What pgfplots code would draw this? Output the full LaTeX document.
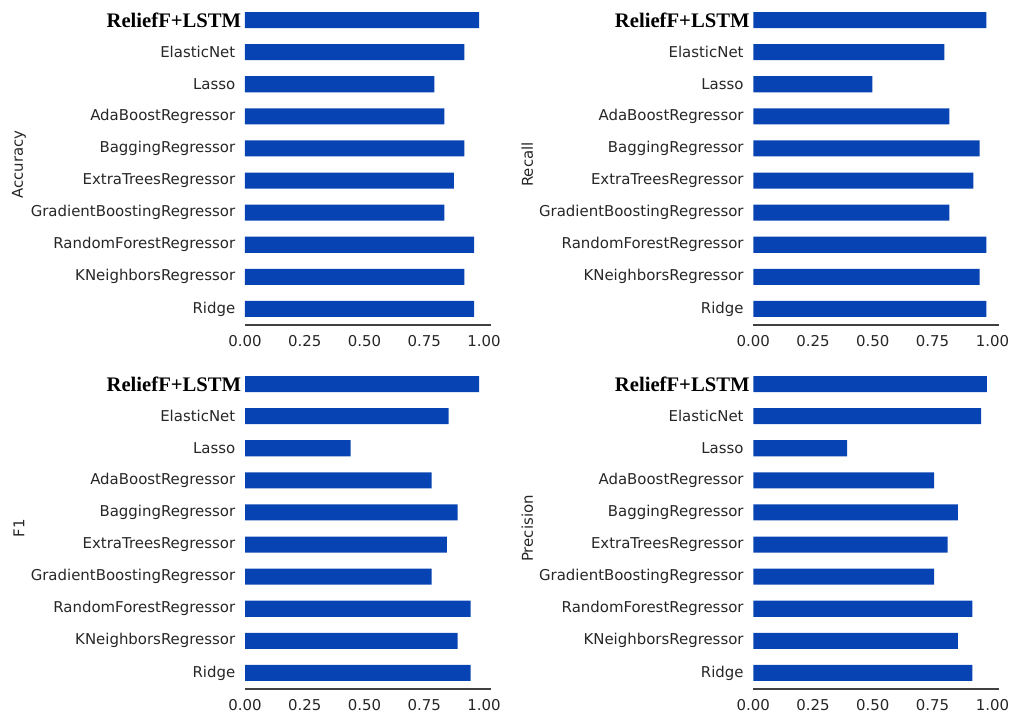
\documentclass[border=0pt]{standalone}
\usepackage{fontspec}
\setmainfont{DejaVu Sans}
\newfontfamily\titlefont{Liberation Serif}
\usepackage{pgfplots}
\usepackage{pgfplotstable}
\pgfplotsset{compat=1.18}

\definecolor{barblue}{RGB}{8,67,180}

% Scores per model (bottom row of each panel first)
\pgfplotstableread{
model                      acc    rec    fone   prec
Ridge                      0.958  0.975  0.944  0.916
KNeighborsRegressor        0.918  0.947  0.890  0.856
RandomForestRegressor      0.958  0.975  0.944  0.916
GradientBoostingRegressor  0.834  0.820  0.781  0.756
ExtraTreesRegressor        0.874  0.921  0.844  0.813
BaggingRegressor           0.918  0.947  0.890  0.856
AdaBoostRegressor          0.834  0.820  0.781  0.756
Lasso                      0.792  0.498  0.442  0.392
ElasticNet                 0.918  0.799  0.852  0.953
ReliefF+LSTM               0.979  0.975  0.979  0.977
}\scores

\pgfplotsset{
  panel/.style={
    scale only axis,
    width=184.3pt, height=240.75pt,
    xmin=0, xmax=1.028, ymin=-0.5, ymax=9.5,
    axis lines*=left,
    y axis line style={draw=none},
    x axis line style={black!75, line width=0.9pt},
    major tick length=0pt,
    xtick={0,0.25,0.5,0.75,1},
    /pgf/number format/fixed,
    /pgf/number format/fixed zerofill,
    /pgf/number format/precision=2,
    /pgf/number format/assume math mode=true,
    ytick={0,...,9},
    yticklabels={Ridge,KNeighborsRegressor,RandomForestRegressor,
      GradientBoostingRegressor,ExtraTreesRegressor,BaggingRegressor,
      AdaBoostRegressor,Lasso,ElasticNet,
      {\color{black}\titlefont\bfseries\fontsize{15.5}{18}\selectfont ReliefF+LSTM\kern-4.5pt}},
    tick label style={font=\fontsize{11.2}{13}\selectfont, text=black!85},
    xticklabel style={yshift=-4.2pt},
    yticklabel style={xshift=-3.8pt},
    every axis y label/.style={at={(axis description cs:-0.92,0.5)},
      rotate=90, anchor=center, font=\fontsize{11.2}{13}\selectfont, text=black!85},
  },
  hbars/.style={xbar, bar width=0.5, fill=barblue, draw=none},
}

\begin{document}
\begin{tikzpicture}
\useasboundingbox (0,0) rectangle (757.5pt,534pt);

\begin{axis}[panel, at={(183.75pt,290.25pt)}, anchor=south west, ylabel={Accuracy}]
  \addplot[hbars] table[x=acc, y expr=\coordindex] {\scores};
\end{axis}

\begin{axis}[panel, at={(565pt,290.25pt)}, anchor=south west, ylabel={Recall}]
  \addplot[hbars] table[x=rec, y expr=\coordindex] {\scores};
\end{axis}

\begin{axis}[panel, at={(183.75pt,17.25pt)}, anchor=south west, ylabel={F1}]
  \addplot[hbars] table[x=fone, y expr=\coordindex] {\scores};
\end{axis}

\begin{axis}[panel, at={(565pt,17.25pt)}, anchor=south west, ylabel={Precision}]
  \addplot[hbars] table[x=prec, y expr=\coordindex] {\scores};
\end{axis}
\end{tikzpicture}
\end{document}
